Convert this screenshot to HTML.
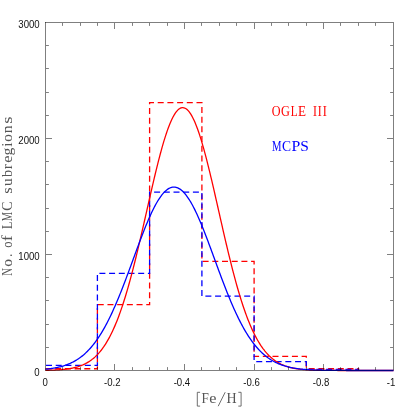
<!DOCTYPE html>
<html><head><meta charset="utf-8"><style>
html,body{margin:0;padding:0;background:#fff;}
svg{display:block;will-change:transform;}
.tk{font-family:"Liberation Sans",sans-serif;font-size:10px;fill:#111;}
.sf{font-family:"Liberation Serif",serif;font-size:14.2px;}
</style></head><body>
<svg width="415" height="415" viewBox="0 0 415 415">
<rect width="415" height="415" fill="#fff"/>
<path d="M45.50 368.76 L97.40 368.76 L97.40 304.61 L149.60 304.61 L149.60 102.66 L201.90 102.66 L201.90 261.46 L254.10 261.46 L254.10 356.46 L306.30 356.46 L306.30 368.76 L358.50 368.76 L358.50 370.50" transform="scale(1.0 1)" fill="none" stroke="#ff0000" stroke-width="1.3" stroke-dasharray="6.0 3.7" stroke-dashoffset="0"/>
<path d="M45.50 365.40 L97.40 365.40 L97.40 273.29 L149.60 273.29 L149.60 192.21 L201.90 192.21 L201.90 296.14 L254.10 296.14 L254.10 361.68 L306.30 361.68 L306.30 369.46 L358.50 369.46 L358.50 370.50" transform="scale(1.0 1)" fill="none" stroke="#0000ff" stroke-width="1.3" stroke-dasharray="6.0 3.7" stroke-dashoffset="-0.5"/>
<path d="M45.50 370.31 L46.37 370.30 L47.24 370.28 L48.11 370.26 L48.98 370.23 L49.85 370.21 L50.72 370.18 L51.59 370.15 L52.46 370.12 L53.33 370.09 L54.20 370.05 L55.07 370.01 L55.94 369.96 L56.81 369.92 L57.68 369.86 L58.55 369.81 L59.42 369.75 L60.29 369.69 L61.16 369.62 L62.03 369.54 L62.90 369.46 L63.77 369.37 L64.64 369.28 L65.51 369.18 L66.38 369.07 L67.25 368.96 L68.12 368.83 L68.99 368.70 L69.86 368.56 L70.73 368.41 L71.60 368.25 L72.47 368.07 L73.34 367.89 L74.21 367.69 L75.08 367.48 L75.95 367.25 L76.82 367.01 L77.69 366.76 L78.56 366.48 L79.43 366.19 L80.30 365.89 L81.17 365.56 L82.04 365.21 L82.91 364.85 L83.78 364.46 L84.65 364.04 L85.52 363.61 L86.39 363.14 L87.26 362.66 L88.13 362.14 L89.00 361.60 L89.87 361.02 L90.74 360.41 L91.61 359.78 L92.48 359.10 L93.35 358.40 L94.22 357.65 L95.09 356.87 L95.96 356.05 L96.83 355.19 L97.70 354.29 L98.57 353.34 L99.44 352.35 L100.31 351.31 L101.18 350.23 L102.05 349.09 L102.92 347.91 L103.79 346.68 L104.66 345.39 L105.53 344.05 L106.40 342.65 L107.27 341.20 L108.14 339.68 L109.01 338.11 L109.88 336.48 L110.75 334.79 L111.62 333.03 L112.49 331.22 L113.36 329.33 L114.23 327.39 L115.10 325.37 L115.97 323.29 L116.84 321.15 L117.71 318.93 L118.58 316.65 L119.45 314.30 L120.32 311.88 L121.19 309.39 L122.06 306.84 L122.93 304.21 L123.80 301.52 L124.67 298.76 L125.54 295.94 L126.41 293.05 L127.28 290.09 L128.15 287.07 L129.02 283.98 L129.89 280.84 L130.76 277.63 L131.63 274.37 L132.50 271.04 L133.37 267.67 L134.24 264.24 L135.11 260.76 L135.98 257.23 L136.85 253.66 L137.72 250.05 L138.59 246.39 L139.46 242.70 L140.33 238.98 L141.20 235.23 L142.07 231.45 L142.94 227.65 L143.81 223.83 L144.68 219.99 L145.55 216.15 L146.42 212.30 L147.29 208.45 L148.16 204.60 L149.03 200.76 L149.90 196.94 L150.77 193.13 L151.64 189.34 L152.51 185.58 L153.38 181.85 L154.25 178.16 L155.12 174.51 L155.99 170.90 L156.86 167.35 L157.73 163.86 L158.60 160.43 L159.47 157.07 L160.34 153.78 L161.21 150.56 L162.08 147.43 L162.95 144.39 L163.82 141.44 L164.69 138.59 L165.56 135.83 L166.43 133.19 L167.30 130.65 L168.17 128.23 L169.04 125.93 L169.91 123.74 L170.78 121.69 L171.65 119.76 L172.52 117.97 L173.39 116.31 L174.26 114.79 L175.13 113.41 L176.00 112.17 L176.87 111.08 L177.74 110.14 L178.61 109.35 L179.48 108.70 L180.35 108.21 L181.22 107.87 L182.09 107.68 L182.96 107.65 L183.83 107.77 L184.70 108.04 L185.57 108.47 L186.44 109.04 L187.31 109.77 L188.18 110.65 L189.05 111.68 L189.92 112.85 L190.79 114.17 L191.66 115.62 L192.53 117.22 L193.40 118.96 L194.27 120.83 L195.14 122.82 L196.01 124.95 L196.88 127.20 L197.75 129.57 L198.62 132.06 L199.49 134.66 L200.36 137.36 L201.23 140.17 L202.10 143.08 L202.97 146.08 L203.84 149.18 L204.71 152.35 L205.58 155.61 L206.45 158.94 L207.32 162.34 L208.19 165.81 L209.06 169.33 L209.93 172.91 L210.80 176.54 L211.67 180.22 L212.54 183.93 L213.41 187.68 L214.28 191.46 L215.15 195.26 L216.02 199.08 L216.89 202.91 L217.76 206.76 L218.63 210.61 L219.50 214.46 L220.37 218.30 L221.24 222.14 L222.11 225.97 L222.98 229.78 L223.85 233.57 L224.72 237.33 L225.59 241.07 L226.46 244.77 L227.33 248.44 L228.20 252.08 L229.07 255.67 L229.94 259.21 L230.81 262.71 L231.68 266.17 L232.55 269.57 L233.42 272.91 L234.29 276.20 L235.16 279.43 L236.03 282.61 L236.90 285.72 L237.77 288.77 L238.64 291.75 L239.51 294.67 L240.38 297.53 L241.25 300.32 L242.12 303.04 L242.99 305.69 L243.86 308.28 L244.73 310.80 L245.60 313.24 L246.47 315.62 L247.34 317.94 L248.21 320.18 L249.08 322.36 L249.95 324.47 L250.82 326.51 L251.69 328.48 L252.56 330.40 L253.43 332.24 L254.30 334.02 L255.17 335.74 L256.04 337.40 L256.91 339.00 L257.78 340.54 L258.65 342.02 L259.52 343.44 L260.39 344.80 L261.26 346.12 L262.13 347.37 L263.00 348.58 L263.87 349.73 L264.74 350.84 L265.61 351.90 L266.48 352.91 L267.35 353.87 L268.22 354.80 L269.09 355.68 L269.96 356.51 L270.83 357.31 L271.70 358.07 L272.57 358.80 L273.44 359.48 L274.31 360.14 L275.18 360.76 L276.05 361.35 L276.92 361.90 L277.79 362.43 L278.66 362.93 L279.53 363.41 L280.40 363.85 L281.27 364.28 L282.14 364.68 L283.01 365.05 L283.88 365.41 L284.75 365.75 L285.62 366.06 L286.49 366.36 L287.36 366.64 L288.23 366.90 L289.10 367.15 L289.97 367.38 L290.84 367.60 L291.71 367.80 L292.58 367.99 L293.45 368.17 L294.32 368.34 L295.19 368.49 L296.06 368.64 L296.93 368.78 L297.80 368.90 L298.67 369.02 L299.54 369.13 L300.41 369.24 L301.28 369.33 L302.15 369.42 L303.02 369.51 L303.89 369.58 L304.76 369.66 L305.63 369.72 L306.50 369.78 L307.37 369.84 L308.24 369.89 L309.11 369.94 L309.98 369.99 L310.85 370.03 L311.72 370.07 L312.59 370.11 L313.46 370.14 L314.33 370.17 L315.20 370.20 L316.07 370.22 L316.94 370.25 L317.81 370.27 L318.68 370.29 L319.55 370.31 L320.42 370.32 L321.29 370.34 L322.16 370.35 L323.03 370.37 L323.90 370.38 L324.77 370.39 L325.64 370.40 L326.51 370.41 L327.38 370.42 L328.25 370.43 L329.12 370.43 L329.99 370.44 L330.86 370.44 L331.73 370.45 L332.60 370.45 L333.47 370.46 L334.34 370.46 L335.21 370.47 L336.08 370.47 L336.95 370.47 L337.82 370.48 L338.69 370.48 L339.56 370.48 L340.43 370.48 L341.30 370.48 L342.17 370.49 L343.04 370.49 L343.91 370.49 L344.78 370.49 L345.65 370.49 L346.52 370.49 L347.39 370.49 L348.26 370.49 L349.13 370.49 L350.00 370.49 L350.87 370.50 L351.74 370.50 L352.61 370.50 L353.48 370.50 L354.35 370.50 L355.22 370.50 L356.09 370.50 L356.96 370.50 L357.83 370.50 L358.70 370.50 L359.57 370.50 L360.44 370.50 L361.31 370.50 L362.18 370.50 L363.05 370.50 L363.92 370.50 L364.79 370.50 L365.66 370.50 L366.53 370.50 L367.40 370.50 L368.27 370.50 L369.14 370.50 L370.01 370.50 L370.88 370.50 L371.75 370.50 L372.62 370.50 L373.49 370.50 L374.36 370.50 L375.23 370.50 L376.10 370.50 L376.97 370.50 L377.84 370.50 L378.71 370.50 L379.58 370.50 L380.45 370.50 L381.32 370.50 L382.19 370.50 L383.06 370.50 L383.93 370.50 L384.80 370.50 L385.67 370.50 L386.54 370.50 L387.41 370.50 L388.28 370.50 L389.15 370.50 L390.02 370.50 L390.89 370.50 L391.76 370.50 L392.63 370.50 L393.50 370.50" fill="none" stroke="#ff0000" stroke-width="1.3"/>
<path d="M45.50 369.23 L46.37 369.14 L47.24 369.05 L48.11 368.95 L48.98 368.84 L49.85 368.73 L50.72 368.61 L51.59 368.49 L52.46 368.36 L53.33 368.22 L54.20 368.07 L55.07 367.91 L55.94 367.74 L56.81 367.57 L57.68 367.38 L58.55 367.19 L59.42 366.98 L60.29 366.76 L61.16 366.54 L62.03 366.30 L62.90 366.04 L63.77 365.78 L64.64 365.50 L65.51 365.20 L66.38 364.89 L67.25 364.57 L68.12 364.23 L68.99 363.87 L69.86 363.50 L70.73 363.11 L71.60 362.70 L72.47 362.27 L73.34 361.82 L74.21 361.35 L75.08 360.86 L75.95 360.35 L76.82 359.82 L77.69 359.26 L78.56 358.68 L79.43 358.08 L80.30 357.45 L81.17 356.80 L82.04 356.12 L82.91 355.41 L83.78 354.68 L84.65 353.91 L85.52 353.12 L86.39 352.30 L87.26 351.45 L88.13 350.57 L89.00 349.66 L89.87 348.71 L90.74 347.73 L91.61 346.72 L92.48 345.68 L93.35 344.60 L94.22 343.49 L95.09 342.34 L95.96 341.16 L96.83 339.94 L97.70 338.69 L98.57 337.40 L99.44 336.07 L100.31 334.71 L101.18 333.31 L102.05 331.87 L102.92 330.39 L103.79 328.88 L104.66 327.33 L105.53 325.74 L106.40 324.12 L107.27 322.45 L108.14 320.75 L109.01 319.02 L109.88 317.25 L110.75 315.44 L111.62 313.60 L112.49 311.72 L113.36 309.81 L114.23 307.86 L115.10 305.89 L115.97 303.88 L116.84 301.83 L117.71 299.76 L118.58 297.66 L119.45 295.53 L120.32 293.38 L121.19 291.19 L122.06 288.99 L122.93 286.76 L123.80 284.51 L124.67 282.24 L125.54 279.95 L126.41 277.64 L127.28 275.32 L128.15 272.98 L129.02 270.63 L129.89 268.28 L130.76 265.91 L131.63 263.54 L132.50 261.17 L133.37 258.79 L134.24 256.41 L135.11 254.04 L135.98 251.67 L136.85 249.31 L137.72 246.96 L138.59 244.62 L139.46 242.29 L140.33 239.98 L141.20 237.69 L142.07 235.42 L142.94 233.18 L143.81 230.96 L144.68 228.77 L145.55 226.61 L146.42 224.49 L147.29 222.40 L148.16 220.35 L149.03 218.34 L149.90 216.38 L150.77 214.46 L151.64 212.59 L152.51 210.77 L153.38 209.00 L154.25 207.29 L155.12 205.63 L155.99 204.04 L156.86 202.50 L157.73 201.03 L158.60 199.62 L159.47 198.29 L160.34 197.01 L161.21 195.81 L162.08 194.69 L162.95 193.63 L163.82 192.65 L164.69 191.75 L165.56 190.92 L166.43 190.17 L167.30 189.51 L168.17 188.92 L169.04 188.41 L169.91 187.99 L170.78 187.65 L171.65 187.39 L172.52 187.21 L173.39 187.12 L174.26 187.11 L175.13 187.19 L176.00 187.34 L176.87 187.59 L177.74 187.91 L178.61 188.32 L179.48 188.81 L180.35 189.38 L181.22 190.03 L182.09 190.77 L182.96 191.58 L183.83 192.47 L184.70 193.43 L185.57 194.47 L186.44 195.58 L187.31 196.77 L188.18 198.03 L189.05 199.35 L189.92 200.74 L190.79 202.20 L191.66 203.73 L192.53 205.31 L193.40 206.95 L194.27 208.65 L195.14 210.41 L196.01 212.22 L196.88 214.08 L197.75 215.99 L198.62 217.95 L199.49 219.95 L200.36 221.99 L201.23 224.07 L202.10 226.18 L202.97 228.34 L203.84 230.52 L204.71 232.73 L205.58 234.97 L206.45 237.24 L207.32 239.52 L208.19 241.83 L209.06 244.15 L209.93 246.49 L210.80 248.84 L211.67 251.20 L212.54 253.57 L213.41 255.94 L214.28 258.31 L215.15 260.69 L216.02 263.07 L216.89 265.44 L217.76 267.80 L218.63 270.16 L219.50 272.51 L220.37 274.85 L221.24 277.18 L222.11 279.49 L222.98 281.78 L223.85 284.06 L224.72 286.31 L225.59 288.54 L226.46 290.76 L227.33 292.94 L228.20 295.10 L229.07 297.24 L229.94 299.34 L230.81 301.42 L231.68 303.47 L232.55 305.49 L233.42 307.47 L234.29 309.42 L235.16 311.34 L236.03 313.23 L236.90 315.08 L237.77 316.89 L238.64 318.67 L239.51 320.41 L240.38 322.12 L241.25 323.79 L242.12 325.42 L242.99 327.01 L243.86 328.57 L244.73 330.09 L245.60 331.57 L246.47 333.02 L247.34 334.43 L248.21 335.80 L249.08 337.14 L249.95 338.43 L250.82 339.69 L251.69 340.92 L252.56 342.11 L253.43 343.26 L254.30 344.38 L255.17 345.47 L256.04 346.52 L256.91 347.53 L257.78 348.52 L258.65 349.47 L259.52 350.39 L260.39 351.28 L261.26 352.13 L262.13 352.96 L263.00 353.76 L263.87 354.53 L264.74 355.27 L265.61 355.98 L266.48 356.66 L267.35 357.32 L268.22 357.96 L269.09 358.57 L269.96 359.15 L270.83 359.71 L271.70 360.25 L272.57 360.76 L273.44 361.26 L274.31 361.73 L275.18 362.18 L276.05 362.61 L276.92 363.03 L277.79 363.42 L278.66 363.80 L279.53 364.16 L280.40 364.50 L281.27 364.83 L282.14 365.14 L283.01 365.44 L283.88 365.72 L284.75 365.99 L285.62 366.25 L286.49 366.49 L287.36 366.72 L288.23 366.94 L289.10 367.15 L289.97 367.34 L290.84 367.53 L291.71 367.71 L292.58 367.88 L293.45 368.04 L294.32 368.19 L295.19 368.33 L296.06 368.46 L296.93 368.59 L297.80 368.71 L298.67 368.82 L299.54 368.93 L300.41 369.03 L301.28 369.12 L302.15 369.21 L303.02 369.30 L303.89 369.38 L304.76 369.45 L305.63 369.52 L306.50 369.59 L307.37 369.65 L308.24 369.71 L309.11 369.76 L309.98 369.81 L310.85 369.86 L311.72 369.90 L312.59 369.94 L313.46 369.98 L314.33 370.02 L315.20 370.05 L316.07 370.09 L316.94 370.12 L317.81 370.14 L318.68 370.17 L319.55 370.19 L320.42 370.22 L321.29 370.24 L322.16 370.26 L323.03 370.28 L323.90 370.29 L324.77 370.31 L325.64 370.32 L326.51 370.34 L327.38 370.35 L328.25 370.36 L329.12 370.37 L329.99 370.38 L330.86 370.39 L331.73 370.40 L332.60 370.41 L333.47 370.42 L334.34 370.42 L335.21 370.43 L336.08 370.43 L336.95 370.44 L337.82 370.44 L338.69 370.45 L339.56 370.45 L340.43 370.46 L341.30 370.46 L342.17 370.46 L343.04 370.47 L343.91 370.47 L344.78 370.47 L345.65 370.47 L346.52 370.48 L347.39 370.48 L348.26 370.48 L349.13 370.48 L350.00 370.48 L350.87 370.49 L351.74 370.49 L352.61 370.49 L353.48 370.49 L354.35 370.49 L355.22 370.49 L356.09 370.49 L356.96 370.49 L357.83 370.49 L358.70 370.49 L359.57 370.49 L360.44 370.49 L361.31 370.50 L362.18 370.50 L363.05 370.50 L363.92 370.50 L364.79 370.50 L365.66 370.50 L366.53 370.50 L367.40 370.50 L368.27 370.50 L369.14 370.50 L370.01 370.50 L370.88 370.50 L371.75 370.50 L372.62 370.50 L373.49 370.50 L374.36 370.50 L375.23 370.50 L376.10 370.50 L376.97 370.50 L377.84 370.50 L378.71 370.50 L379.58 370.50 L380.45 370.50 L381.32 370.50 L382.19 370.50 L383.06 370.50 L383.93 370.50 L384.80 370.50 L385.67 370.50 L386.54 370.50 L387.41 370.50 L388.28 370.50 L389.15 370.50 L390.02 370.50 L390.89 370.50 L391.76 370.50 L392.63 370.50 L393.50 370.50" fill="none" stroke="#0000ff" stroke-width="1.3"/>
<rect x="45.5" y="22.5" width="348.0" height="348.0" fill="none" stroke="#000" stroke-width="0.5"/>
<path d="M62.50 370.00 V367.10 M62.50 23.00 V25.90 M80.50 370.00 V367.10 M80.50 23.00 V25.90 M97.50 370.00 V367.10 M97.50 23.00 V25.90 M114.50 370.00 V364.00 M114.50 23.00 V29.00 M132.50 370.00 V367.10 M132.50 23.00 V25.90 M149.50 370.00 V367.10 M149.50 23.00 V25.90 M167.50 370.00 V367.10 M167.50 23.00 V25.90 M184.50 370.00 V364.00 M184.50 23.00 V29.00 M201.50 370.00 V367.10 M201.50 23.00 V25.90 M219.50 370.00 V367.10 M219.50 23.00 V25.90 M236.50 370.00 V367.10 M236.50 23.00 V25.90 M254.50 370.00 V364.00 M254.50 23.00 V29.00 M271.50 370.00 V367.10 M271.50 23.00 V25.90 M288.50 370.00 V367.10 M288.50 23.00 V25.90 M306.50 370.00 V367.10 M306.50 23.00 V25.90 M323.50 370.00 V364.00 M323.50 23.00 V29.00 M340.50 370.00 V367.10 M340.50 23.00 V25.90 M358.50 370.00 V367.10 M358.50 23.00 V25.90 M375.50 370.00 V367.10 M375.50 23.00 V25.90 M46.00 347.50 H48.90 M393.00 347.50 H390.10 M46.00 324.50 H48.90 M393.00 324.50 H390.10 M46.00 300.50 H48.90 M393.00 300.50 H390.10 M46.00 277.50 H48.90 M393.00 277.50 H390.10 M46.00 254.50 H52.00 M393.00 254.50 H387.00 M46.00 231.50 H48.90 M393.00 231.50 H390.10 M46.00 208.50 H48.90 M393.00 208.50 H390.10 M46.00 184.50 H48.90 M393.00 184.50 H390.10 M46.00 161.50 H48.90 M393.00 161.50 H390.10 M46.00 138.50 H52.00 M393.00 138.50 H387.00 M46.00 115.50 H48.90 M393.00 115.50 H390.10 M46.00 92.50 H48.90 M393.00 92.50 H390.10 M46.00 68.50 H48.90 M393.00 68.50 H390.10 M46.00 45.50 H48.90 M393.00 45.50 H390.10" fill="none" stroke="#000" stroke-width="0.5"/>
<text transform="translate(45.05 385.7) scale(0.96 1)" text-anchor="middle" class="tk">0</text><text transform="translate(112.30 385.7) scale(0.96 1)" text-anchor="middle" class="tk">-0.2</text><text transform="translate(181.90 385.7) scale(0.96 1)" text-anchor="middle" class="tk">-0.4</text><text transform="translate(251.50 385.7) scale(0.96 1)" text-anchor="middle" class="tk">-0.6</text><text transform="translate(321.10 385.7) scale(0.96 1)" text-anchor="middle" class="tk">-0.8</text><text transform="translate(391.00 385.7) scale(0.96 1)" text-anchor="middle" class="tk">-1</text>
<text transform="translate(39.7 375.80) scale(0.96 1)" text-anchor="end" class="tk">0</text><text transform="translate(39.7 259.80) scale(0.96 1)" text-anchor="end" class="tk">1000</text><text transform="translate(39.7 143.80) scale(0.96 1)" text-anchor="end" class="tk">2000</text><text transform="translate(39.7 27.80) scale(0.96 1)" text-anchor="end" class="tk">3000</text>
<g class="sf" fill="#555">
<g transform="translate(0 403.2)"><text transform="translate(201.62 0) scale(0.932 1.000)">F</text><text transform="translate(209.37 0) scale(1.142 1.000)">e</text><text transform="translate(226.50 0) scale(0.986 1.000)">H</text></g>
<path d="M200.1 392.3 H197.3 V406.1 H200.1 M238.3 392.3 H241.1 V406.1 H238.3 M218.2 406.2 L225.2 392.2" fill="none" stroke="#555" stroke-width="0.85"/>
<g transform="translate(11.5 0) rotate(-90)"><text transform="translate(-275.81 0) scale(0.756 1.000)">N</text><text transform="translate(-266.69 0) scale(1.097 1.000)">o</text><text transform="translate(-256.68 0) scale(0.834 1.000)">.</text><text transform="translate(-247.69 0) scale(0.897 1.000)">o</text><text transform="translate(-241.25 0) scale(1.258 1.000)">f</text><text transform="translate(-228.95 0) scale(0.850 1.000)">L</text><text transform="translate(-221.30 0) scale(0.737 1.000)">M</text><text transform="translate(-210.67 0) scale(0.975 1.000)">C</text><text transform="translate(-193.67 0) scale(1.151 1.000)">s</text><text transform="translate(-186.10 0) scale(1.079 1.000)">u</text><text transform="translate(-177.10 0) scale(1.006 1.000)">b</text><text transform="translate(-169.32 0) scale(1.111 1.000)">r</text><text transform="translate(-162.63 0) scale(1.142 1.000)">e</text><text transform="translate(-155.48 0) scale(1.109 1.000)">g</text><text transform="translate(-146.72 0) scale(1.066 1.000)">i</text><text transform="translate(-141.68 0) scale(1.063 1.000)">o</text><text transform="translate(-133.26 0) scale(1.098 1.000)">n</text><text transform="translate(-123.76 0) scale(1.309 1.000)">s</text></g>
</g>
<g class="sf" fill="#ff0000" transform="translate(0 115.9)"><text transform="translate(271.70 0) scale(0.858 1.000)">O</text><text transform="translate(281.10 0) scale(0.867 1.000)">G</text><text transform="translate(290.77 0) scale(0.796 1.000)">L</text><text transform="translate(298.12 0) scale(0.926 1.000)">E</text><text transform="translate(313.07 0) scale(0.834 1.000)">I</text><text transform="translate(317.87 0) scale(0.834 1.000)">I</text><text transform="translate(322.66 0) scale(0.861 1.000)">I</text></g>
<g class="sf" fill="#0000ff" transform="translate(0 150.9)"><text transform="translate(271.89 0) scale(0.754 1.000)">M</text><text transform="translate(282.09 0) scale(0.956 1.000)">C</text><text transform="translate(291.44 0) scale(1.113 1.000)">P</text><text transform="translate(300.17 0) scale(1.088 1.000)">S</text></g>
</svg>
</body></html>
